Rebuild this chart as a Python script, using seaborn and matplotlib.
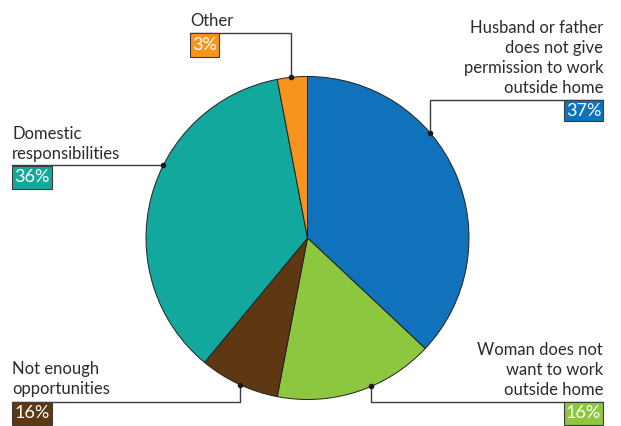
import matplotlib
matplotlib.use("Agg")
import matplotlib.pyplot as plt
from matplotlib.patches import Rectangle
import numpy as np
import seaborn as sns

# Reasons women do not work outside the home
categories = [
    "Husband or father\ndoes not give\npermission to work\noutside home",
    "Woman does not\nwant to work\noutside home",
    "Not enough\nopportunities",
    "Domestic\nresponsibilities",
    "Other",
]
shares = [37, 16, 8, 36, 3]          # slice sizes
pct_labels = ["37%", "16%", "16%", "36%", "3%"]   # as printed on the chart
colors = ["#1072BA", "#8DC63F", "#5E3813", "#13A89E", "#F7941D"]

sns.set_theme(style="white")
plt.rcParams["font.family"] = ["Lato", "DejaVu Sans"]

W, H = 621, 426
fig = plt.figure(figsize=(W / 100, H / 100), dpi=100)
ax = fig.add_axes([0, 0, 1, 1])

def Y(y):
    # pixel row (top-down) -> data y
    return H - y

cx, cy, r = 307.5, 238, 161.5
wedges, _ = ax.pie(shares, colors=colors, startangle=90, counterclock=False,
                   center=(cx, Y(cy)), radius=r,
                   wedgeprops=dict(edgecolor="#231F20", linewidth=0.7))

ax.set_xlim(0, W)
ax.set_ylim(0, H)
ax.set_aspect("equal")
ax.axis("off")

# layout: where the leader hits the wedge (fraction along it, clockwise),
# elbow row, end column, text anchor and box
layout = [
    dict(f=0.37, elbow=100, end=603, ha="right", tx=603, ty=96,  box=(564, 100, 39, 21)),
    dict(f=0.41, elbow=402, end=603, ha="right", tx=603, ty=398, box=(564, 402, 39, 23)),
    dict(f=0.48, elbow=402, end=12,  ha="left",  tx=12,  ty=397, box=(12, 402, 40, 23)),
    dict(f=0.595, elbow=None, end=12, ha="left", tx=12,  ty=162, box=(12, 166, 40, 23)),
    dict(f=0.47, elbow=33, end=190,  ha="left",  tx=190, ty=29,  box=(190, 33, 29, 24)),
]

text_color = "#2B2B2B"
for w, lab, pct, col, lay in zip(wedges, categories, pct_labels, colors, layout):
    ang = np.deg2rad(w.theta2 - lay["f"] * (w.theta2 - w.theta1))
    px = cx + r * np.cos(ang)
    py = Y(cy) + r * np.sin(ang)
    if lay["elbow"] is None:
        xs, ys = [px, lay["end"]], [py, py]
    else:
        xs = [px, px, lay["end"]]
        ys = [py, Y(lay["elbow"]), Y(lay["elbow"])]
    ax.plot(xs, ys, color="#3C3C3C", lw=1.0, zorder=3)
    ax.plot(px, py, "o", color="#1A1A1A", ms=3, zorder=4)

    ax.text(lay["tx"], Y(lay["ty"]), lab, ha=lay["ha"], va="bottom",
            fontsize=12, color=text_color, linespacing=1.3)

    bx, by, bw, bh = lay["box"]
    ax.add_patch(Rectangle((bx, Y(by + bh)), bw, bh, facecolor=col,
                           edgecolor="#3C3C3C", lw=0.8, zorder=5))
    ax.text(bx + bw / 2, Y(by + bh / 2), pct, ha="center", va="center",
            fontsize=13, color="white", zorder=6)

fig.savefig("out.png", dpi=100)
